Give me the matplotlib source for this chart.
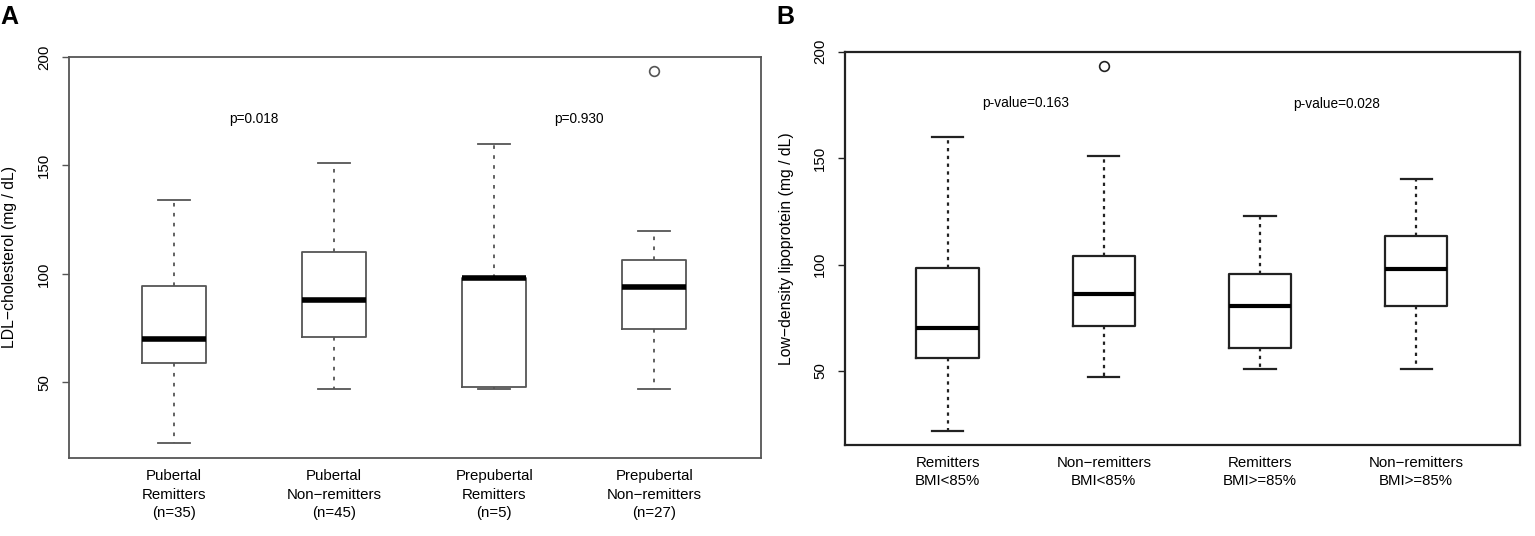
import numpy as np
import matplotlib.pyplot as plt

plt.rcParams['font.family'] = ['Liberation Sans', 'DejaVu Sans']

# Panel A: LDL-cholesterol by puberty / remission group
labels_a = ["Pubertal\nRemitters\n(n=35)", "Pubertal\nNon\u2212remitters\n(n=45)",
            "Prepubertal\nRemitters\n(n=5)", "Prepubertal\nNon\u2212remitters\n(n=27)"]
whislo_a = [22, 47, 47, 47]
q1_a = [59, 71, 48, 74.5]
med_a = [70, 88, 98, 94]
q3_a = [94.5, 110, 98, 106.5]
whishi_a = [134, 151, 160, 120]
fliers_a = [[], [], [], [193.5]]
pvals_a = ["p=0.018", "p=0.930"]

# Panel B: LDL by BMI group / remission
labels_b = ["Remitters\nBMI<85%", "Non\u2212remitters\nBMI<85%",
            "Remitters\nBMI>=85%", "Non\u2212remitters\nBMI>=85%"]
whislo_b = [22, 47, 51, 51]
q1_b = [56, 71, 61, 80.5]
med_b = [70, 86, 80.5, 98]
q3_b = [98.5, 104, 95.5, 113.5]
whishi_b = [160, 151, 123, 140]
fliers_b = [[], [193.5], [], []]
pvals_b = ["p-value=0.163", "p-value=0.028"]


def make_stats(lo, q1, med, q3, hi, fl):
    return [dict(whislo=lo[i], q1=q1[i], med=med[i], q3=q3[i], whishi=hi[i],
                 fliers=fl[i]) for i in range(len(lo))]


def draw_panel(ax, stats, labels, col, lw, med_lw, ls):
    ax.bxp(stats, positions=[1, 2, 3, 4], widths=0.4, showfliers=True,
           boxprops=dict(color=col, linewidth=lw),
           whiskerprops=dict(color=col, linewidth=lw, linestyle=ls),
           capprops=dict(color=col, linewidth=lw),
           medianprops=dict(color='black', linewidth=med_lw, solid_capstyle='butt'),
           flierprops=dict(marker='o', markersize=7, markerfacecolor='none',
                           markeredgecolor=col, markeredgewidth=1.2),
           capwidths=0.2)
    ax.set_xlim(0.343, 4.664)
    ax.set_ylim(15.2, 200)
    ax.set_yticks([50, 100, 150, 200])
    ax.set_xticks([1, 2, 3, 4])
    ax.set_xticklabels(labels, fontsize=10.8, linespacing=1.4)
    ax.tick_params(axis='x', length=0, pad=8)
    ax.tick_params(axis='y', length=5, width=1, color=col, labelsize=10.8, pad=8)
    for lab in ax.get_yticklabels():
        lab.set_rotation(90)
        lab.set_va('center')
    for sp in ax.spines.values():
        sp.set_color(col)
        sp.set_linewidth(lw)


fig = plt.figure(figsize=(15.35, 5.36), dpi=100)

ax1 = fig.add_axes([0.04495, 0.1455, 0.4506, 0.7482])
draw_panel(ax1, make_stats(whislo_a, q1_a, med_a, q3_a, whishi_a, fliers_a),
           labels_a, '#555555', 1.3, 4, (0, (2, 3.5)))
ax1.set_ylabel("LDL\u2212cholesterol (mg / dL)", fontsize=11.3, labelpad=14)
ax1.text(1.5, 171.5, pvals_a[0], ha='center', va='center', fontsize=9.8)
ax1.text(3.53, 171.5, pvals_a[1], ha='center', va='center', fontsize=9.8)

ax2 = fig.add_axes([0.5505, 0.1698, 0.4397, 0.7337])
draw_panel(ax2, make_stats(whislo_b, q1_b, med_b, q3_b, whishi_b, fliers_b),
           labels_b, '#222222', 1.6, 3, (0, (1.5, 2)))
ax2.set_ylabel("Low\u2212density lipoprotein (mg / dL)", fontsize=11.3, labelpad=14)
ax2.text(1.5, 176, pvals_b[0], ha='center', va='center', fontsize=9.8)
ax2.text(3.49, 175.3, pvals_b[1], ha='center', va='center', fontsize=9.8)

fig.text(0.0, 0.99, "A", fontsize=18, fontweight='bold', va='top', ha='left')
fig.text(0.506, 0.99, "B", fontsize=18, fontweight='bold', va='top', ha='left')

fig.savefig("out.png", dpi=100)
